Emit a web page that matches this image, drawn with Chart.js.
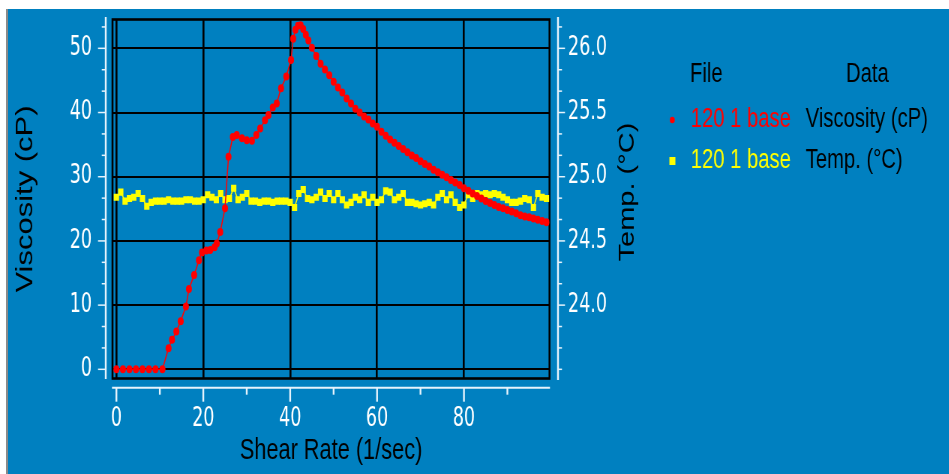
<!DOCTYPE html>
<html>
<head>
<meta charset="utf-8">
<title>Viscosity and temperature vs shear rate</title>
<script src="https://cdn.jsdelivr.net/npm/chart.js@4.4.1/dist/chart.umd.min.js"></script>
<style>
  html, body { margin: 0; padding: 0; background: #fff; overflow: hidden; }
  #panel { position: absolute; left: 6px; top: 9px; width: 941px; height: 465px; background: #0080c0; border-left: 2px solid #8a8a8a; }
  #wrap { position: absolute; left: 0; top: 0; transform-origin: 0 0; }
</style>
</head>
<body>
<div id="panel"></div>
<div id="wrap"><canvas id="rheoChart"></canvas></div>
<script>
// the original screenshot is squeezed sideways, so the canvas is drawn wide and scaled down in x
const S = 0.75;
const W = Math.round(949 / S);
const H = 474;

// viscosity trace: shear rate (1/sec) and viscosity (cP)
const viscShear = [0, 1.5, 3, 4.5, 6, 7.5, 9, 10.6, 12.0, 12.8, 13.8, 14.8, 16.0, 16.7, 17.9, 19.0, 19.7, 20.7,
  21.6, 22.6, 23.1, 23.9, 25.0, 25.8, 26.8, 27.7, 28.9, 30.0, 31.2, 32.2, 33.1, 34.2, 35.0, 36.0, 36.9, 37.9,
  39.1, 40.2, 40.7, 41.2, 41.8, 42.4, 43.0, 43.6, 44.2, 45, 46, 47, 48, 49, 50, 51, 52, 53, 54, 55, 56, 57, 58,
  59, 60, 61, 62, 63, 64, 65, 66, 67, 68, 69, 70, 71, 72, 73, 74, 75, 76, 77, 78, 79, 80, 81, 82, 83, 84, 85,
  86, 87, 88, 89, 90, 91, 92, 93, 94, 95, 96, 97, 98, 99];
const viscosity = [0, 0, 0, 0, 0, 0, 0, 0, 3.3, 4.6, 5.9, 7.5, 9.8, 12.5, 14.7, 17.0, 18.2, 18.5,
  18.6, 19.0, 19.6, 21.4, 25.1, 33.1, 36.2, 36.5, 36.0, 35.7, 35.6, 36.5, 37.5, 38.8, 39.6, 40.8, 41.4, 43.8,
  45.6, 48.2, 51.5, 52.9, 53.5, 53.6, 53.0, 52.1, 51.2, 50.1, 48.8, 47.6, 46.7, 45.8, 44.8, 43.9, 43.1, 42.2,
  41.4, 40.6, 40.0, 39.4, 38.9, 38.3, 37.8, 37.0, 36.4, 35.8, 35.3, 34.8, 34.3, 33.8, 33.3, 32.9, 32.4, 32.0,
  31.6, 31.1, 30.7, 30.3, 29.9, 29.5, 29.1, 28.7, 28.2, 27.8, 27.4, 27.0, 26.6, 26.2, 25.9, 25.6, 25.3, 25.1,
  24.8, 24.6, 24.3, 24.0, 23.8, 23.7, 23.5, 23.3, 23.1, 22.9];

// temperature trace (°C)
const tempShear = [0, 1, 2, 3, 4, 5, 6, 7, 8, 9, 10, 11, 12, 13, 14, 15, 16, 17, 18, 19, 20, 21, 22, 23, 24,
  25, 26, 27, 28, 29, 30, 31, 32, 33, 34, 35, 36, 37, 38, 39, 40, 41, 42, 43, 44, 45, 46, 47, 48, 49, 50, 51,
  52, 53, 54, 55, 56, 57, 58, 59, 60, 61, 62, 63, 64, 65, 66, 67, 68, 69, 70, 71, 72, 73, 74, 75, 76, 77, 78,
  79, 80, 81, 82, 83, 84, 85, 86, 87, 88, 89, 90, 91, 92, 93, 94, 95, 96, 97, 98, 99];
const temperature = [24.84, 24.88, 24.81, 24.83, 24.84, 24.87, 24.83, 24.77, 24.80, 24.81, 24.81, 24.81,
  24.82, 24.81, 24.81, 24.81, 24.82, 24.82, 24.81, 24.81, 24.82, 24.86, 24.84, 24.82, 24.87, 24.82, 24.83,
  24.91, 24.82, 24.84, 24.87, 24.81, 24.81, 24.80, 24.81, 24.81, 24.80, 24.81, 24.81, 24.81, 24.80, 24.76,
  24.87, 24.90, 24.83, 24.82, 24.84, 24.88, 24.83, 24.87, 24.82, 24.87, 24.82, 24.78, 24.80, 24.84, 24.82,
  24.86, 24.80, 24.84, 24.80, 24.82, 24.89, 24.88, 24.82, 24.84, 24.87, 24.80, 24.80, 24.79, 24.78, 24.79,
  24.80, 24.78, 24.84, 24.87, 24.82, 24.86, 24.80, 24.76, 24.78, 24.86, 24.83, 24.87, 24.86, 24.87, 24.86,
  24.87, 24.86, 24.84, 24.82, 24.80, 24.80, 24.81, 24.83, 24.82, 24.76, 24.87, 24.84, 24.83];

const fileNames = ['120 1 base', '120 1 base'];

// axes
const xRange = [-0.9, 99.7];
const viscRange = [-1.43, 54.49];
const tempRange = [23.4285, 26.2245];
const xTicks = [0, 20, 40, 60, 80];
const viscTicks = [0, 10, 20, 30, 40, 50];
const tempTicks = [24.0, 24.5, 25.0, 25.5, 26.0];

const SANS = "'Liberation Sans', Arial, sans-serif";
const NARROW = "'Liberation Sans Narrow', 'Arial Narrow', 'DejaVu Sans Condensed', 'Liberation Sans', sans-serif";
const AXIS_WHITE = '#e6f3fc';

const canvas = document.getElementById('rheoChart');
canvas.width = W;
canvas.height = H;
document.getElementById('wrap').style.transform = `scaleX(${S})`;

// pin each axis box to a fixed size and drop the label overhang padding
function fixSize(width, height) {
    return scale => {
        if (width !== null) scale.width = width;
        if (height !== null) scale.height = height;
        scale.paddingTop = 0;
        scale.paddingBottom = 0;
        scale.paddingLeft = 0;
        scale.paddingRight = 0;
    };
}

// frame, white offset axes with minor ticks, right title and the File/Data legend
const extras = {
    id: 'extras',
    beforeDatasetsDraw(chart) {
        const {ctx, chartArea: a} = chart;
        ctx.save();
        ctx.strokeStyle = '#000';
        ctx.lineWidth = 2.6;
        ctx.strokeRect(a.left, a.top, a.right - a.left, a.bottom - a.top);
        ctx.restore();
    },
    afterDraw(chart) {
        const {ctx, chartArea: a, scales} = chart;
        ctx.save();
        ctx.strokeStyle = AXIS_WHITE;

        // left axis
        const lx = a.left - 9;
        ctx.lineWidth = 2.4;
        ctx.beginPath(); ctx.moveTo(lx, a.top - 2.5); ctx.lineTo(lx, a.bottom + 0.5); ctx.stroke();
        ctx.lineWidth = 1.5;
        for (let k = 0; k * 10 / 3 <= viscRange[1]; k++) {
            const y = scales.y.getPixelForValue(k * 10 / 3);
            ctx.beginPath(); ctx.moveTo(lx, y); ctx.lineTo(lx - (k % 3 === 0 ? 10.3 : 5.3), y); ctx.stroke();
        }

        // right axis
        const rx = a.right + 11.3;
        ctx.lineWidth = 2.4;
        ctx.beginPath(); ctx.moveTo(rx, a.top - 2.5); ctx.lineTo(rx, a.bottom + 1.5); ctx.stroke();
        ctx.lineWidth = 1.5;
        for (let k = 0; 23.5 + k / 6 <= tempRange[1]; k++) {
            const y = scales.y2.getPixelForValue(23.5 + k / 6);
            const major = k % 3 === 0 && k > 0;
            ctx.beginPath(); ctx.moveTo(rx, y); ctx.lineTo(rx + (major ? 9.3 : 5.3), y); ctx.stroke();
        }

        // bottom axis
        const by = a.bottom + 9.2;
        ctx.lineWidth = 2;
        ctx.beginPath(); ctx.moveTo(a.left - 0.7, by); ctx.lineTo(a.right + 0.6, by); ctx.stroke();
        ctx.lineWidth = 2.4;
        for (let v = 0; v < xRange[1]; v += 10) {
            const x = scales.x.getPixelForValue(v);
            ctx.beginPath(); ctx.moveTo(x, by); ctx.lineTo(x, by + (v % 20 === 0 ? 14 : 7)); ctx.stroke();
        }

        // right axis title reads bottom to top
        ctx.fillStyle = '#000';
        ctx.font = `29px ${SANS}`;
        ctx.textAlign = 'center';
        ctx.textBaseline = 'middle';
        ctx.translate(837.3, 192);
        ctx.rotate(-Math.PI / 2);
        ctx.fillText('Temp. (°C)', 0, 0);
        ctx.restore();

        // legend table
        ctx.save();
        ctx.font = `27px ${SANS}`;
        ctx.textBaseline = 'middle';
        ctx.fillStyle = '#000';
        ctx.fillText('File', 920, 75);
        ctx.fillText('Data', 1128, 75);
        chart.data.datasets.forEach((ds, i) => {
            const y = 120 + i * 41;
            ctx.fillStyle = ds.backgroundColor;
            if (ds.pointStyle === 'rect') {
                ctx.fillRect(892.5, y - 4, 8, 8);
            } else {
                ctx.beginPath(); ctx.arc(896.4, y, 3.3, 0, 2 * Math.PI); ctx.fill();
            }
            ctx.fillText(fileNames[i], 921, y);
            ctx.fillStyle = '#000';
            ctx.fillText(ds.label, 1074.3, y);
        });
        ctx.restore();
    }
};

const tickFont = { family: NARROW, size: 26 };

new Chart(canvas, {
    type: 'line',
    data: {
        datasets: [{
            label: 'Viscosity (cP)',
            data: viscShear.map((x, i) => ({ x: x, y: viscosity[i] })),
            yAxisID: 'y',
            borderColor: '#ff0000',
            backgroundColor: '#ff0000',
            borderWidth: 1.5,
            pointStyle: 'circle',
            pointRadius: 4,
            pointBorderWidth: 0,
            tension: 0
        }, {
            label: 'Temp. (°C)',
            data: tempShear.map((x, i) => ({ x: x, y: temperature[i] })),
            yAxisID: 'y2',
            borderColor: '#ffff00',
            backgroundColor: '#ffff00',
            borderWidth: 1.5,
            pointStyle: 'rect',
            pointRadius: 5,
            pointBorderWidth: 0,
            tension: 0
        }]
    },
    options: {
        responsive: false,
        animation: false,
        devicePixelRatio: 1,
        layout: { autoPadding: false, padding: { left: 0, top: 19.5, right: 412.3, bottom: 0 } },
        plugins: { legend: { display: false }, tooltip: { enabled: false } },
        scales: {
            x: {
                type: 'linear',
                min: xRange[0],
                max: xRange[1],
                afterBuildTicks: scale => { scale.ticks = xTicks.map(v => ({ value: v })); },
                afterFit: fixSize(null, 95.5),
                grid: { color: '#000', lineWidth: 2.6, drawTicks: false },
                border: { display: false },
                ticks: { color: '#fff', font: tickFont, padding: 24.9, autoSkip: false, maxRotation: 0 },
                title: {
                    display: true, text: 'Shear Rate (1/sec)', color: '#000',
                    font: { family: SANS, size: 29 }, padding: { top: 0, bottom: 5.6 }
                }
            },
            y: {
                position: 'left',
                min: viscRange[0],
                max: viscRange[1],
                afterBuildTicks: scale => { scale.ticks = viscTicks.map(v => ({ value: v })); },
                afterFit: fixSize(150, null),
                grid: { color: '#000', lineWidth: 2, drawTicks: false },
                border: { display: false },
                ticks: { color: '#fff', font: tickFont, padding: 27.3 },
                title: {
                    display: true, text: 'Viscosity (cP)', color: '#000',
                    font: { family: SANS, size: 31 }, padding: { top: 16, bottom: 0 }
                }
            },
            y2: {
                position: 'right',
                min: tempRange[0],
                max: tempRange[1],
                afterBuildTicks: scale => { scale.ticks = tempTicks.map(v => ({ value: v })); },
                afterFit: fixSize(120, null),
                grid: { display: false, drawTicks: false },
                border: { display: false },
                ticks: { color: '#fff', font: tickFont, padding: 24.6, callback: v => v.toFixed(1) }
            }
        }
    },
    plugins: [extras]
});
</script>
</body>
</html>
